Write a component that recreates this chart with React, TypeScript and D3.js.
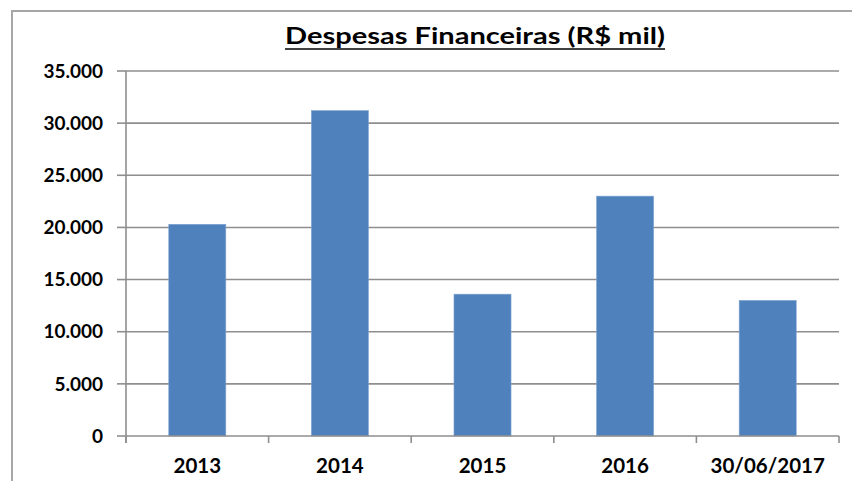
import React from "react";
import * as d3 from "d3";

const title = "Despesas Financeiras (R$ mil)";
const categories = ["2013", "2014", "2015", "2016", "30/06/2017"];
const values = [20300, 31200, 13600, 23000, 13000];
const yTicks = [0, 5000, 10000, 15000, 20000, 25000, 30000, 35000];

const W = 852;
const H = 481;
const plot = { left: 126, right: 839, top: 71, bottom: 436 };

const fmt = (v: number) => d3.format(",")(v).replace(/,/g, ".");

export default function App() {
  const x = d3
    .scaleBand<string>()
    .domain(categories)
    .range([plot.left, plot.right])
    .paddingInner(0.6)
    .paddingOuter(0.3);
  const y = d3.scaleLinear().domain([0, 35000]).range([plot.bottom, plot.top]);
  const bandEdges = categories.map((_, i) => plot.left + (i * (plot.right - plot.left)) / categories.length);
  bandEdges.push(plot.right);
  const font = "Lato, 'Open Sans', sans-serif";
  const grid = "#8e8e8e";

  return (
    <svg
      width={W}
      height={H}
      style={{ position: "fixed", left: 0, top: 0, background: "#fff" }}
      fontFamily={font}
    >
      <rect x={0} y={0} width={W} height={H} fill="#fff" />
      {/* outer chart border */}
      <rect x={12} y={11} width={W + 20} height={H + 20} fill="none" stroke="#a6a6a6" strokeWidth={2} />

      {/* title */}
      <text
        x={475}
        y={44}
        textAnchor="middle"
        fontSize={23}
        fontWeight={700}
        fill="#000"
        textLength={380}
        lengthAdjust="spacingAndGlyphs"
      >
        {title}
      </text>
      <line x1={285} x2={665} y1={49} y2={49} stroke="#000" strokeWidth={1.6} />

      {/* gridlines */}
      {yTicks.map((t) => (
        <g key={t}>
          {t > 0 && (
            <line x1={plot.left} x2={plot.right} y1={y(t)} y2={y(t)} stroke={grid} strokeWidth={1.6} />
          )}
          <line x1={117} x2={plot.left} y1={y(t)} y2={y(t)} stroke={grid} strokeWidth={1.6} />
          <text
            x={103}
            y={y(t)}
            dy="0.35em"
            textAnchor="end"
            fontSize={19}
            fontWeight={700}
            fill="#000"
          >
            {fmt(t)}
          </text>
        </g>
      ))}

      {/* bars */}
      {categories.map((c, i) => (
        <rect
          key={c}
          x={x(c)}
          y={y(values[i])}
          width={x.bandwidth()}
          height={y(0) - y(values[i])}
          fill="#4F81BD"
          stroke="#7FA3D0"
          strokeWidth={0.6}
        />
      ))}

      {/* axes */}
      <line x1={plot.left} x2={plot.left} y1={plot.top} y2={443} stroke={grid} strokeWidth={1.6} />
      <line x1={plot.left} x2={plot.right} y1={plot.bottom} y2={plot.bottom} stroke={grid} strokeWidth={1.6} />
      {bandEdges.map((e, i) => (
        <line key={i} x1={e} x2={e} y1={plot.bottom} y2={443} stroke={grid} strokeWidth={1.6} />
      ))}
      {categories.map((c) => (
        <text
          key={c}
          x={(x(c) as number) + x.bandwidth() / 2}
          y={473}
          textAnchor="middle"
          fontSize={20.5}
          fontWeight={700}
          fill="#000"
        >
          {c}
        </text>
      ))}
    </svg>
  );
}
